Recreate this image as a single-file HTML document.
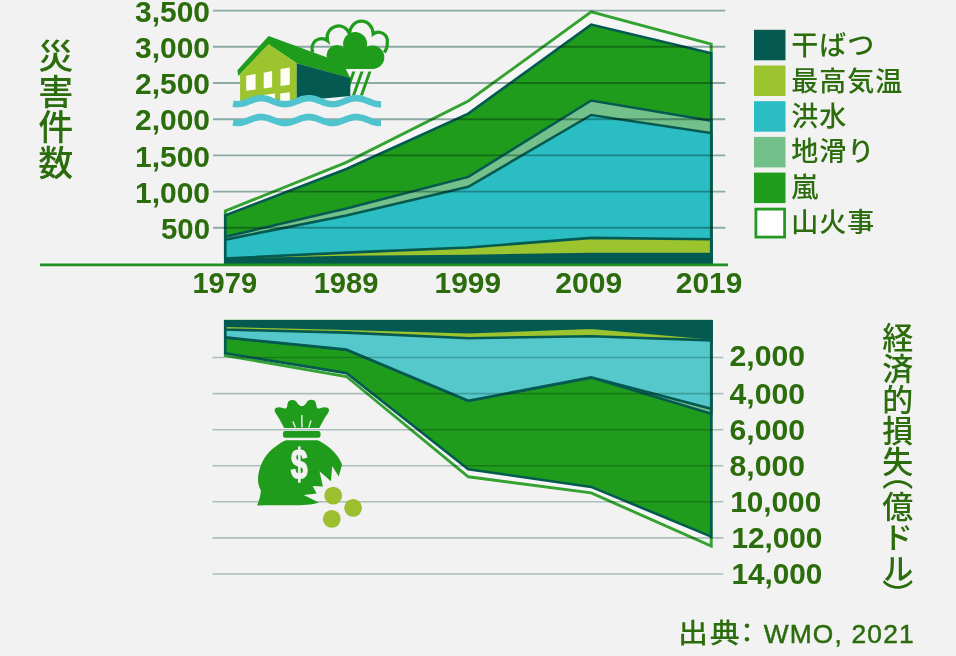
<!DOCTYPE html>
<html lang="ja"><head><meta charset="utf-8"><title>災害件数と経済的損失</title>
<style>
html,body{margin:0;padding:0;background:#f2f2f2;}
body{width:956px;height:656px;position:relative;overflow:hidden;font-family:"Liberation Sans","Noto Sans CJK JP",sans-serif;color:#2b6c0c;}
svg{position:absolute;left:0;top:0;}
.num{font-family:"Liberation Sans",sans-serif;font-weight:bold;font-size:29px;fill:#2b6c0c;}
.jp{position:absolute;font-family:"Liberation Sans","Noto Sans CJK JP",sans-serif;font-weight:500;color:#2b6c0c;white-space:nowrap;line-height:1;}
.v{writing-mode:vertical-rl;text-orientation:upright;}
</style></head><body>
<svg width="956" height="656" viewBox="0 0 956 656">
<polygon points="225.3,264.6 225.3,211.0 346.4,162.4 468.3,101.0 591.2,11.8 711.2,44.2 711.2,264.6" fill="#f5f5f5" stroke="#33a230" stroke-width="2.9" stroke-linejoin="miter"/>
<polygon points="225.3,264.6 225.3,215.3 346.4,169.0 468.3,113.6 591.2,24.6 711.2,53.3 711.2,264.6" fill="#1f9c1c" stroke="#045a50" stroke-width="2.6" stroke-linejoin="miter"/>
<polygon points="225.3,264.6 225.3,236.7 346.4,208.5 468.3,176.9 591.2,100.5 711.2,120.8 711.2,264.6" fill="#73c08a" stroke="#045a50" stroke-width="2.6" stroke-linejoin="miter"/>
<polygon points="225.3,264.6 225.3,239.6 346.4,215.5 468.3,186.8 591.2,115.0 711.2,133.0 711.2,264.6" fill="#2bbdc4" stroke="#045a50" stroke-width="2.6" stroke-linejoin="miter"/>
<polygon points="225.3,264.6 225.3,258.4 346.4,252.6 468.3,247.5 591.2,237.9 711.2,239.2 711.2,264.6" fill="#9cc42f" stroke="#045a50" stroke-width="2.6" stroke-linejoin="miter"/>
<polygon points="225.3,264.6 225.3,259.5 346.4,257.1 468.3,256.0 591.2,254.0 711.2,254.0 711.2,264.6" fill="#045a50" stroke="#045a50" stroke-width="2.6" stroke-linejoin="miter"/>
<polygon points="225.3,321.2 225.3,355.5 346.4,376.5 468.3,476.8 591.2,492.9 711.2,546.0 711.2,321.2" fill="#f5f5f5" stroke="#33a230" stroke-width="2.9"/>
<polygon points="225.3,321.2 225.3,353.2 346.4,373.1 468.3,469.3 591.2,486.9 711.2,536.6 711.2,321.2" fill="#1f9c1c" stroke="#045a50" stroke-width="2.6"/>
<polygon points="225.3,321.2 225.3,337.5 346.4,349.8 468.3,400.9 591.2,377.6 711.2,413.7 711.2,321.2" fill="#73c08a" stroke="#045a50" stroke-width="2.6"/>
<polygon points="225.3,321.2 225.3,337.4 346.4,349.6 468.3,400.7 591.2,377.3 711.2,408.8 711.2,321.2" fill="#55c8cc" stroke="#045a50" stroke-width="2.6"/>
<polygon points="225.3,321.2 225.3,329.6 346.4,332.6 468.3,338.2 591.2,336.2 711.2,340.4 711.2,321.2" fill="#9cc42f" stroke="#045a50" stroke-width="2.6"/>
<polygon points="225.3,321.2 225.3,325.8 346.4,328.8 468.3,332.2 591.2,327.8 711.2,338.4 711.2,321.2" fill="#045a50" stroke="#045a50" stroke-width="2.6"/>
<g style="mix-blend-mode:multiply">
<line x1="213" x2="725.3" y1="227.8" y2="227.8" stroke="#93b3ae" stroke-width="1.9"/>
<line x1="213" x2="725.3" y1="191.6" y2="191.6" stroke="#93b3ae" stroke-width="1.9"/>
<line x1="213" x2="725.3" y1="155.4" y2="155.4" stroke="#93b3ae" stroke-width="1.9"/>
<line x1="213" x2="725.3" y1="119.2" y2="119.2" stroke="#93b3ae" stroke-width="1.9"/>
<line x1="213" x2="725.3" y1="83.0" y2="83.0" stroke="#93b3ae" stroke-width="1.9"/>
<line x1="213" x2="725.3" y1="46.8" y2="46.8" stroke="#93b3ae" stroke-width="1.9"/>
<line x1="213" x2="725.3" y1="10.6" y2="10.6" stroke="#93b3ae" stroke-width="1.9"/>
<line x1="212.5" x2="723.3" y1="357.5" y2="357.5" stroke="#b3c9c5" stroke-width="1.6"/>
<line x1="212.5" x2="723.3" y1="393.6" y2="393.6" stroke="#b3c9c5" stroke-width="1.6"/>
<line x1="212.5" x2="723.3" y1="429.7" y2="429.7" stroke="#b3c9c5" stroke-width="1.6"/>
<line x1="212.5" x2="723.3" y1="465.7" y2="465.7" stroke="#b3c9c5" stroke-width="1.6"/>
<line x1="212.5" x2="723.3" y1="501.8" y2="501.8" stroke="#b3c9c5" stroke-width="1.6"/>
<line x1="212.5" x2="723.3" y1="537.9" y2="537.9" stroke="#b3c9c5" stroke-width="1.6"/>
<line x1="212.5" x2="723.3" y1="574.0" y2="574.0" stroke="#b3c9c5" stroke-width="1.6"/>
</g>
<line x1="40" x2="728" y1="264.85" y2="264.85" stroke="#1f901f" stroke-width="2.7"/>
<g id="house">
<path d="M313,52.6 A9.6,9.6 0 0 1 327.5,40.7 A11.3,11.3 0 0 1 349.6,34.3 A11.8,13 0 0 1 373.2,34 A8.8,8.8 0 0 1 387.3,42 A9,13 0 0 1 384.3,52.5" fill="none" stroke="#1f9c1c" stroke-width="3.2"/>
<polygon points="352.25,71.6 355.35,71.6 346.87,95.6 343.77,95.6" fill="#1f9c1c"/>
<polygon points="360.45,71.6 363.55,71.6 355.07,95.6 351.97,95.6" fill="#1f9c1c"/>
<polygon points="368.35,71.6 371.45,71.6 362.97,95.6 359.87,95.6" fill="#1f9c1c"/>
<g fill="#1f9c1c"><circle cx="355.1" cy="44" r="12"/><circle cx="337" cy="55.5" r="10.5"/><circle cx="372.6" cy="57.3" r="11.7"/><rect x="337" y="50" width="36" height="19"/></g>
<polygon points="268.6,36 343,63.2 350.3,78.3 296.7,63.2 268.6,44.2 238.3,76 237.4,70.3" fill="#1f9c1c"/>
<polygon points="240.1,74 268.6,44.2 296.7,63.2 296.7,104 240.1,104" fill="#9cc42f"/>
<polygon points="296.7,63.2 350.3,78.1 350.3,96 296.7,101" fill="#045a50"/>
<polygon points="246.2,75.8 255.6,74 255.6,89.4 246.2,90.8" fill="#fdfdf5"/>
<polygon points="263.7,72.7 272.1,71 272.1,87.2 263.7,88.5" fill="#fdfdf5"/>
<polygon points="280.5,69 289.8,67.5 289.8,84.8 280.5,86.1" fill="#fdfdf5"/>
<polygon points="263.9,95 275,93.6 275,102 263.9,102" fill="#fdfdf5"/>
<polygon points="280.2,93.4 289.8,92.3 289.8,102 280.2,102" fill="#fdfdf5"/>
<path d="M233.0,103.7 L235.0,104.0 L237.0,104.2 L239.0,104.1 L241.0,103.9 L243.0,103.4 L245.0,102.8 L247.0,102.1 L249.0,101.3 L251.0,100.6 L253.0,99.8 L255.0,99.2 L257.0,98.7 L259.0,98.3 L261.0,98.2 L263.0,98.3 L265.0,98.6 L267.0,99.0 L269.0,99.6 L271.0,100.4 L273.0,101.2 L275.0,101.9 L277.0,102.7 L279.0,103.3 L281.0,103.8 L283.0,104.1 L285.0,104.2 L287.0,104.1 L289.0,103.8 L291.0,103.3 L293.0,102.7 L295.0,101.9 L297.0,101.2 L299.0,100.4 L301.0,99.6 L303.0,99.0 L305.0,98.6 L307.0,98.3 L309.0,98.2 L311.0,98.3 L313.0,98.7 L315.0,99.2 L317.0,99.8 L319.0,100.6 L321.0,101.3 L323.0,102.1 L325.0,102.8 L327.0,103.4 L329.0,103.9 L331.0,104.1 L333.0,104.2 L335.0,104.0 L337.0,103.7 L339.0,103.2 L341.0,102.5 L343.0,101.7 L345.0,101.0 L347.0,100.2 L349.0,99.5 L351.0,98.9 L353.0,98.5 L355.0,98.2 L357.0,98.2 L359.0,98.4 L361.0,98.8 L363.0,99.3 L365.0,100.0 L367.0,100.8 L369.0,101.5 L371.0,102.3 L373.0,103.0 L375.0,103.6 L377.0,104.0 L379.0,104.2 L381.0,104.2 L381,112 L233,112 Z" fill="#f2f2f2"/>
<path d="M233.0,103.7 L235.0,104.0 L237.0,104.2 L239.0,104.1 L241.0,103.9 L243.0,103.4 L245.0,102.8 L247.0,102.1 L249.0,101.3 L251.0,100.6 L253.0,99.8 L255.0,99.2 L257.0,98.7 L259.0,98.3 L261.0,98.2 L263.0,98.3 L265.0,98.6 L267.0,99.0 L269.0,99.6 L271.0,100.4 L273.0,101.2 L275.0,101.9 L277.0,102.7 L279.0,103.3 L281.0,103.8 L283.0,104.1 L285.0,104.2 L287.0,104.1 L289.0,103.8 L291.0,103.3 L293.0,102.7 L295.0,101.9 L297.0,101.2 L299.0,100.4 L301.0,99.6 L303.0,99.0 L305.0,98.6 L307.0,98.3 L309.0,98.2 L311.0,98.3 L313.0,98.7 L315.0,99.2 L317.0,99.8 L319.0,100.6 L321.0,101.3 L323.0,102.1 L325.0,102.8 L327.0,103.4 L329.0,103.9 L331.0,104.1 L333.0,104.2 L335.0,104.0 L337.0,103.7 L339.0,103.2 L341.0,102.5 L343.0,101.7 L345.0,101.0 L347.0,100.2 L349.0,99.5 L351.0,98.9 L353.0,98.5 L355.0,98.2 L357.0,98.2 L359.0,98.4 L361.0,98.8 L363.0,99.3 L365.0,100.0 L367.0,100.8 L369.0,101.5 L371.0,102.3 L373.0,103.0 L375.0,103.6 L377.0,104.0 L379.0,104.2 L381.0,104.2" fill="none" stroke="#4fc4cf" stroke-width="6.5"/>
<path d="M233.0,122.5 L235.0,122.8 L237.0,123.0 L239.0,122.9 L241.0,122.7 L243.0,122.2 L245.0,121.6 L247.0,120.9 L249.0,120.1 L251.0,119.4 L253.0,118.6 L255.0,118.0 L257.0,117.5 L259.0,117.1 L261.0,117.0 L263.0,117.1 L265.0,117.4 L267.0,117.8 L269.0,118.4 L271.0,119.2 L273.0,120.0 L275.0,120.7 L277.0,121.5 L279.0,122.1 L281.0,122.6 L283.0,122.9 L285.0,123.0 L287.0,122.9 L289.0,122.6 L291.0,122.1 L293.0,121.5 L295.0,120.7 L297.0,120.0 L299.0,119.2 L301.0,118.4 L303.0,117.8 L305.0,117.4 L307.0,117.1 L309.0,117.0 L311.0,117.1 L313.0,117.5 L315.0,118.0 L317.0,118.6 L319.0,119.4 L321.0,120.1 L323.0,120.9 L325.0,121.6 L327.0,122.2 L329.0,122.7 L331.0,122.9 L333.0,123.0 L335.0,122.8 L337.0,122.5 L339.0,122.0 L341.0,121.3 L343.0,120.5 L345.0,119.8 L347.0,119.0 L349.0,118.3 L351.0,117.7 L353.0,117.3 L355.0,117.0 L357.0,117.0 L359.0,117.2 L361.0,117.6 L363.0,118.1 L365.0,118.8 L367.0,119.6 L369.0,120.3 L371.0,121.1 L373.0,121.8 L375.0,122.4 L377.0,122.8 L379.0,123.0 L381.0,123.0" fill="none" stroke="#4fc4cf" stroke-width="6.5"/>
</g>
<g id="bag">
<path d="M284.2,428.0 Q280.7,421.3 278.9,418.2 Q277.2,415.2 276.0,413.7 Q274.8,412.2 274.6,410.6 Q274.5,409.0 275.8,408.1 Q277.0,407.2 279.0,407.2 Q281.0,407.3 282.8,408.1 Q284.5,408.8 285.8,408.4 Q287.0,408.0 287.2,406.0 Q287.4,404.0 288.0,402.3 Q288.6,400.6 290.5,400.2 Q292.3,399.9 294.1,400.2 Q296.0,400.6 296.8,402.3 Q297.6,404.0 299.7,405.5 Q301.8,407.0 303.9,405.5 Q306.0,404.0 306.8,402.2 Q307.6,400.4 309.5,400.0 Q311.3,399.7 313.1,400.0 Q315.0,400.4 315.6,402.2 Q316.2,404.0 316.4,406.0 Q316.6,408.0 317.9,408.4 Q319.2,408.8 320.9,408.1 Q322.7,407.3 324.7,407.2 Q326.7,407.2 327.9,408.1 Q329.2,409.0 329.0,410.6 Q328.8,412.2 327.6,413.7 Q326.3,415.2 324.6,418.2 Q322.8,421.3 319.3,428.0 Z" fill="#1f9c1c"/>
<g stroke="#f2f2f2" stroke-width="1.4" fill="none"><line x1="293" y1="421.5" x2="295.3" y2="427.6"/><line x1="301.8" y1="415" x2="302" y2="427.6"/><line x1="311" y1="420.5" x2="308.8" y2="427.6"/></g>
<rect x="283" y="431" width="37.5" height="6.7" rx="2.2" fill="#1f9c1c"/>
<path d="M286,440.3 L317.5,440.3 C325,443.5 333,450 337.7,456.4 C340,460 341.5,462.5 342.1,464.5 L338.7,476.4 L332.2,466.1 L330.9,481.2 L319.5,471.3 L322.9,486.6 L312.6,486 L316.7,493.5 L303.7,494.9 L318.8,502.4 C312,505 300,505.4 290,505.3 C280,505.2 268,505 257,505.6 C259.5,500 260.5,495.5 260.9,490.6 C257.5,484 257.5,478 258.8,472.2 C261,462 267,452 276.3,445.9 C279.5,443.5 283,441.5 286,440.3 Z" fill="#1f9c1c"/>
<text x="299.3" y="479.4" text-anchor="middle" font-family="Liberation Sans, sans-serif" font-weight="bold" font-size="43.4" fill="#f2f2f2" stroke="#f2f2f2" stroke-width="1.3" transform="translate(299.3 0) scale(0.70 1) translate(-299.3 0)">$</text>
<circle cx="333.2" cy="495.6" r="8.9" fill="#9bbf2f"/>
<circle cx="353.1" cy="507.9" r="8.9" fill="#9bbf2f"/>
<circle cx="331.8" cy="518.9" r="8.9" fill="#9bbf2f"/>
</g>
<rect x="754" y="29.8" width="31.5" height="30.5" fill="#045a50"/>
<rect x="754" y="65.5" width="31.5" height="30.5" fill="#9cc42f"/>
<rect x="754" y="101.2" width="31.5" height="30.5" fill="#2bbdc4"/>
<rect x="754" y="136.9" width="31.5" height="30.5" fill="#73c08a"/>
<rect x="754" y="172.6" width="31.5" height="30.5" fill="#1f9c1c"/>
<rect x="755.9" y="209.1" width="28.7" height="28" fill="#fff" stroke="#259a22" stroke-width="2.8"/>
<text class="num" x="210" y="238.7" text-anchor="end" textLength="49" lengthAdjust="spacingAndGlyphs">500</text>
<text class="num" x="210" y="202.6" text-anchor="end" textLength="75" lengthAdjust="spacingAndGlyphs">1,000</text>
<text class="num" x="210" y="166.5" text-anchor="end" textLength="75" lengthAdjust="spacingAndGlyphs">1,500</text>
<text class="num" x="210" y="130.4" text-anchor="end" textLength="75" lengthAdjust="spacingAndGlyphs">2,000</text>
<text class="num" x="210" y="94.3" text-anchor="end" textLength="75" lengthAdjust="spacingAndGlyphs">2,500</text>
<text class="num" x="210" y="58.2" text-anchor="end" textLength="75" lengthAdjust="spacingAndGlyphs">3,000</text>
<text class="num" x="210" y="22.1" text-anchor="end" textLength="75" lengthAdjust="spacingAndGlyphs">3,500</text>
<text class="num" x="729.6" y="365.7" textLength="75.5" lengthAdjust="spacingAndGlyphs">2,000</text>
<text class="num" x="729.6" y="403.5" textLength="75.5" lengthAdjust="spacingAndGlyphs">4,000</text>
<text class="num" x="729.6" y="439.9" textLength="75.5" lengthAdjust="spacingAndGlyphs">6,000</text>
<text class="num" x="729.6" y="476.1" textLength="75.5" lengthAdjust="spacingAndGlyphs">8,000</text>
<text class="num" x="730.2" y="511.6" textLength="91" lengthAdjust="spacingAndGlyphs">10,000</text>
<text class="num" x="731.4" y="547.9" textLength="91" lengthAdjust="spacingAndGlyphs">12,000</text>
<text class="num" x="731.4" y="584.0" textLength="91" lengthAdjust="spacingAndGlyphs">14,000</text>
<text class="num" x="224.8" y="293" text-anchor="middle" textLength="64.8" lengthAdjust="spacingAndGlyphs">1979</text>
<text class="num" x="346.1" y="293" text-anchor="middle" textLength="64.9" lengthAdjust="spacingAndGlyphs">1989</text>
<text class="num" x="467.8" y="293" text-anchor="middle" textLength="66.5" lengthAdjust="spacingAndGlyphs">1999</text>
<text class="num" x="588.7" y="293" text-anchor="middle" textLength="66.9" lengthAdjust="spacingAndGlyphs">2009</text>
<text class="num" x="709.1" y="293" text-anchor="middle" textLength="66.5" lengthAdjust="spacingAndGlyphs">2019</text>
</svg>
<div class="jp v" style="left:35.3px;top:37.5px;font-size:35px;letter-spacing:0.8px;">災害件数</div>
<div class="jp v" style="left:879.2px;top:322px;font-size:31px;">経済的損失<span style="margin-top:-17.7px;display:inline-block">（</span>億ドル<span style="margin-top:-4px;display:inline-block">）</span></div>
<div class="jp" style="left:791.2px;top:33.3px;font-size:27px;letter-spacing:1px;">干ばつ</div>
<div class="jp" style="left:791.2px;top:68.7px;font-size:27px;letter-spacing:1px;">最高気温</div>
<div class="jp" style="left:791.2px;top:104.0px;font-size:27px;letter-spacing:1px;">洪水</div>
<div class="jp" style="left:791.2px;top:139.4px;font-size:27px;letter-spacing:1px;">地滑り</div>
<div class="jp" style="left:791.2px;top:174.7px;font-size:27px;letter-spacing:1px;">嵐</div>
<div class="jp" style="left:791.2px;top:210.1px;font-size:27px;letter-spacing:1px;">山火事</div>
<div class="jp" style="left:678.4px;top:621.4px;font-size:27px;"><span style="display:inline-block;transform:scaleX(1.11);transform-origin:0 50%;letter-spacing:1.5px">出典</span><span style="display:inline-block;width:24px;margin-left:-2.0px">：</span><span style="font-family:'Liberation Sans',sans-serif;font-weight:400;font-size:26.3px;letter-spacing:1.2px;margin-left:6.3px;-webkit-text-stroke:0.5px #2b6c0c">WMO, 2021</span></div>
</body></html>
